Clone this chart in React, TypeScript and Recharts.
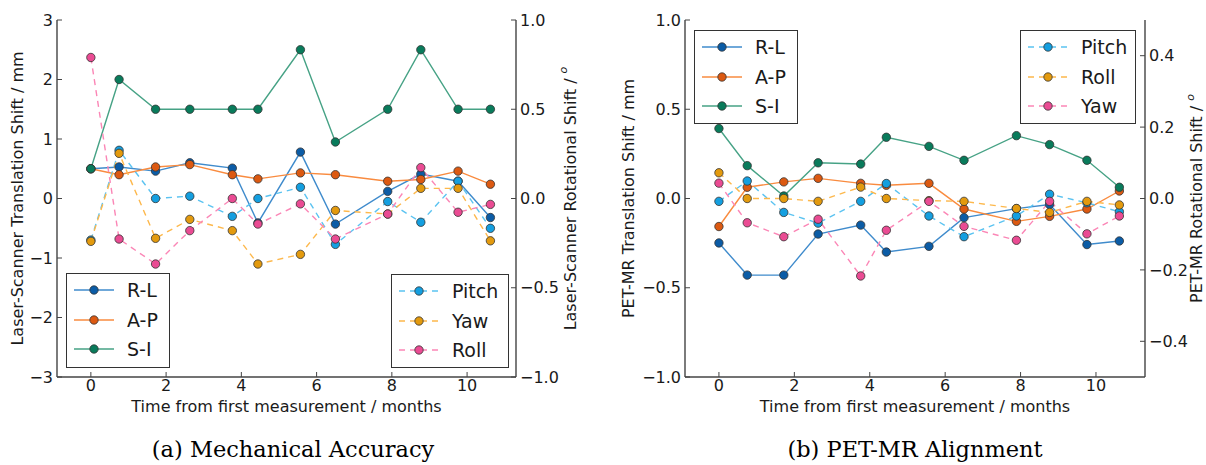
import React from 'react';
import { LineChart, Line, XAxis, YAxis, Label, Legend } from 'recharts';

// months since the first measurement, same sessions in both panels
const months = [0, 0.75, 1.72, 2.63, 3.76, 4.44, 5.57, 6.5, 7.89, 8.77, 9.76, 10.62];
const monthTicks = [0, 2, 4, 6, 8, 10];

// (a) laser scanner, translation in mm
const laserRL = [0.5, 0.53, 0.46, 0.6, 0.51, -0.41, 0.78, -0.43, 0.12, 0.41, 0.29, -0.32];
const laserAP = [0.5, 0.4, 0.53, 0.57, 0.4, 0.33, 0.43, 0.4, 0.29, 0.32, 0.46, 0.24];
const laserSI = [0.5, 2.0, 1.5, 1.5, 1.5, 1.5, 2.5, 0.95, 1.5, 2.5, 1.5, 1.5];
// (a) laser scanner, rotation in degrees
const laserPitch = [-0.233, 0.27, 0.0, 0.013, -0.1, 0.0, 0.063, -0.257, -0.017, -0.133, 0.097, -0.167];
const laserYaw = [-0.24, 0.253, -0.223, -0.117, -0.18, -0.367, -0.313, -0.067, -0.087, 0.057, 0.057, -0.237];
const laserRoll = [0.79, -0.227, -0.367, -0.18, 0.0, -0.143, -0.03, -0.227, -0.087, 0.173, -0.077, -0.033];

// (b) PET-MR, translation in mm
const petRL = [-0.249, -0.429, -0.429, -0.199, -0.149, -0.3, -0.268, -0.107, -0.057, -0.034, -0.258, -0.238];
const petAP = [-0.157, 0.063, 0.093, 0.113, 0.085, 0.074, 0.085, -0.059, -0.128, -0.1, -0.059, 0.042];
const petSI = [0.392, 0.184, 0.014, 0.2, 0.193, 0.343, 0.292, 0.214, 0.352, 0.302, 0.214, 0.063];
// (b) PET-MR, rotation in degrees
const petPitch = [-0.008, 0.049, -0.039, -0.069, -0.008, 0.042, -0.049, -0.107, -0.049, 0.012, -0.012, -0.037];
const petRoll = [0.072, 0.0, 0.0, -0.008, 0.032, 0.0, -0.006, -0.008, -0.028, -0.039, -0.008, -0.018];
const petYaw = [0.043, -0.068, -0.107, -0.058, -0.217, -0.089, -0.008, -0.078, -0.117, -0.008, -0.099, -0.049];

const laserTrTicks = [-3, -2, -1, 0, 1, 2, 3];
const laserRotTicks = [-1, -0.5, 0, 0.5, 1];
const petTrTicks = [-1, -0.5, 0, 0.5, 1];
const petRotTicks = [-0.4, -0.2, 0, 0.2, 0.4];

const FONT = "'DejaVu Sans', sans-serif";
const INK = '#1a1a1a';
const FRAME = '#444';

// line colour / marker colour
const BLUE = ['#3f8bcc', '#0b5ca6'];
const ORANGE = ['#f98b3f', '#dc5911'];
const GREEN = ['#46a285', '#097b5b'];
const SKY = ['#5bc3f1', '#149fe0'];
const AMBER = ['#fdb84c', '#e39a0e'];
const PINK = ['#fb86b6', '#ea4b93'];

type Series = { key: string; name: string; axis: 'tr' | 'rot'; c: string[]; dashed?: boolean };

const seriesA: Series[] = [
  { key: 'rl', name: 'R-L', axis: 'tr', c: BLUE },
  { key: 'ap', name: 'A-P', axis: 'tr', c: ORANGE },
  { key: 'si', name: 'S-I', axis: 'tr', c: GREEN },
  { key: 'pitch', name: 'Pitch', axis: 'rot', c: SKY, dashed: true },
  { key: 'yaw', name: 'Yaw', axis: 'rot', c: AMBER, dashed: true },
  { key: 'roll', name: 'Roll', axis: 'rot', c: PINK, dashed: true },
];

const seriesB: Series[] = [
  { key: 'rl', name: 'R-L', axis: 'tr', c: BLUE },
  { key: 'ap', name: 'A-P', axis: 'tr', c: ORANGE },
  { key: 'si', name: 'S-I', axis: 'tr', c: GREEN },
  { key: 'pitch', name: 'Pitch', axis: 'rot', c: SKY, dashed: true },
  { key: 'roll', name: 'Roll', axis: 'rot', c: AMBER, dashed: true },
  { key: 'yaw', name: 'Yaw', axis: 'rot', c: PINK, dashed: true },
];

const rowsA = months.map((m, i) => ({
  m, rl: laserRL[i], ap: laserAP[i], si: laserSI[i],
  pitch: laserPitch[i], yaw: laserYaw[i], roll: laserRoll[i],
}));

const rowsB = months.map((m, i) => ({
  m, rl: petRL[i], ap: petAP[i], si: petSI[i],
  pitch: petPitch[i], roll: petRoll[i], yaw: petYaw[i],
}));

const fmt = (digits: number) => (v: number) =>
  (v < 0 ? '\u2212' : '') + Math.abs(v).toFixed(digits);

const W = 600;
const H = 420;

type Box = { keys: string[]; left: number; top: number; width: number; height: number };

function LegendBoxes({ series, boxes }: { series: Series[]; boxes: Box[] }) {
  return (
    <div style={{ position: 'relative', width: W, height: H, pointerEvents: 'none' }}>
      {boxes.map((b, bi) => (
        <div
          key={bi}
          style={{
            position: 'absolute', left: b.left, top: b.top, width: b.width, height: b.height,
            border: '1.5px solid #333', background: '#fff', boxSizing: 'border-box',
          }}
        >
          {b.keys.map((k, i) => {
            const s = series.find((x) => x.key === k)!;
            return (
              <div key={k} style={{ position: 'absolute', left: 0, top: 3 + i * 29.5, height: 26, width: b.width }}>
                <svg width={50} height={26} style={{ position: 'absolute', left: 6, top: 0 }}>
                  <line x1={1} x2={41} y1={13} y2={13} stroke={s.c[0]} strokeWidth={1.5}
                    strokeDasharray={s.dashed ? '6 5' : undefined} />
                  <circle cx={21} cy={13} r={4.2} fill={s.c[1]} stroke="#333" strokeWidth={0.8} />
                </svg>
                <span style={{
                  position: 'absolute', left: 60, top: 0, lineHeight: '26px',
                  fontFamily: FONT, fontSize: 19, color: INK,
                }}>{s.name}</span>
              </div>
            );
          })}
        </div>
      ))}
    </div>
  );
}

const vTitle = (text: string, dx: number) => (props: any) => {
  const vb = props.viewBox || {};
  const cx = vb.x + vb.width / 2 + dx;
  const cy = vb.y + vb.height / 2;
  return (
    <text x={cx} y={cy} transform={`rotate(-90 ${cx} ${cy})`} textAnchor="middle"
      dominantBaseline="central" fontFamily={FONT} fontSize={16} fill={INK}>
      {text}
    </text>
  );
};

const degTitle = (text: string, dx: number) => (props: any) => {
  const vb = props.viewBox || {};
  const cx = vb.x + vb.width / 2 + dx;
  const cy = vb.y + vb.height / 2;
  return (
    <text x={cx} y={cy} transform={`rotate(-90 ${cx} ${cy})`} textAnchor="middle"
      dominantBaseline="central" fontFamily={FONT} fontSize={16} fill={INK}>
      {text}
      <tspan dy={-7} fontSize={11} fontStyle="italic">o</tspan>
    </text>
  );
};

const xTitle = (props: any) => {
  const vb = props.viewBox || {};
  return (
    <text x={vb.x + vb.width / 2} y={vb.y + 35} textAnchor="middle"
      fontFamily={FONT} fontSize={16} fill={INK}>
      Time from first measurement / months
    </text>
  );
};

type PanelProps = {
  rows: any[];
  series: Series[];
  trDomain: number[]; trTicks: number[]; trDigits: number;
  rotDomain: number[]; rotTicks: number[]; rotDigits: number;
  leftW: number; rightW: number;
  leftTitle: string; leftDx: number;
  rightTitle: string; rightDx: number;
  boxes: Box[];
};

function Panel(p: PanelProps) {
  const tickStyle = { fontSize: 16, fill: INK, fontFamily: FONT };
  const axisLine = { stroke: FRAME, strokeWidth: 1.4 };
  const tickLine = { stroke: FRAME, strokeWidth: 1 };
  return (
    <LineChart width={W} height={H} data={p.rows} margin={{ top: 20, right: 0, bottom: 0, left: 0 }}>
      <XAxis xAxisId="b" dataKey="m" type="number" domain={[-0.9, 11.3]} ticks={monthTicks}
        height={43} tick={tickStyle} tickSize={-5} tickMargin={8} axisLine={axisLine} tickLine={tickLine}>
        <Label content={xTitle} />
      </XAxis>
      <XAxis xAxisId="t" orientation="top" dataKey="m" type="number" domain={[-0.9, 11.3]}
        ticks={monthTicks} height={0} tick={false} tickSize={-5} axisLine={axisLine} tickLine={tickLine} />
      <YAxis yAxisId="tr" orientation="left" type="number" domain={p.trDomain} ticks={p.trTicks}
        width={p.leftW} tick={tickStyle} tickFormatter={fmt(p.trDigits)} tickSize={-5} tickMargin={9}
        axisLine={axisLine} tickLine={tickLine}>
        <Label content={vTitle(p.leftTitle, p.leftDx)} />
      </YAxis>
      <YAxis yAxisId="rot" orientation="right" type="number" domain={p.rotDomain} ticks={p.rotTicks}
        width={p.rightW} tick={tickStyle} tickFormatter={fmt(p.rotDigits)} tickSize={-5} tickMargin={9}
        axisLine={axisLine} tickLine={tickLine}>
        <Label content={degTitle(p.rightTitle, p.rightDx)} />
      </YAxis>
      {p.series.map((s) => (
        <Line key={s.key} xAxisId="b" yAxisId={s.axis} dataKey={s.key} name={s.name} type="linear"
          stroke={s.c[0]} strokeWidth={1.4} strokeDasharray={s.dashed ? '6 5' : undefined}
          dot={{ r: 4.2, fill: s.c[1], stroke: '#333', strokeWidth: 0.8, strokeDasharray: '' }}
          isAnimationActive={false} />
      ))}
      <Legend layout="vertical" align="center" verticalAlign="middle"
        wrapperStyle={{ position: 'absolute', left: 0, top: 0, width: W, height: H }}
        content={() => <LegendBoxes series={p.series} boxes={p.boxes} />} />
    </LineChart>
  );
}

const captionStyle: React.CSSProperties = {
  position: 'absolute', top: 435, width: 600, height: 28, lineHeight: '28px', textAlign: 'center',
  fontFamily: "'DejaVu Serif', serif", fontSize: 22.5, color: '#000',
};

export default function App() {
  return (
    <div style={{ position: 'absolute', left: 0, top: 0, width: 1206, height: 465, background: '#fff', overflow: 'hidden' }}>
      <div style={{ position: 'absolute', left: 0, top: 0 }}>
        <Panel
          rows={rowsA} series={seriesA}
          trDomain={[-3, 3]} trTicks={laserTrTicks} trDigits={0}
          rotDomain={[-1, 1]} rotTicks={laserRotTicks} rotDigits={1}
          leftW={57} rightW={84}
          leftTitle="Laser-Scanner Translation Shift / mm" leftDx={-11}
          rightTitle="Laser-Scanner Rotational Shift / " rightDx={12}
          boxes={[
            { keys: ['rl', 'ap', 'si'], left: 66, top: 273, width: 104, height: 95 },
            { keys: ['pitch', 'yaw', 'roll'], left: 391, top: 274, width: 118, height: 94 },
          ]}
        />
      </div>
      <div style={{ position: 'absolute', left: 606, top: 0 }}>
        <Panel
          rows={rowsB} series={seriesB}
          trDomain={[-1, 1]} trTicks={petTrTicks} trDigits={1}
          rotDomain={[-0.5, 0.5]} rotTicks={petRotTicks} rotDigits={1}
          leftW={79} rightW={61}
          leftTitle="PET-MR Translation Shift / mm" leftDx={-17}
          rightTitle="PET-MR Rotational Shift / " rightDx={21}
          boxes={[
            { keys: ['rl', 'ap', 'si'], left: 88, top: 30, width: 104, height: 94 },
            { keys: ['pitch', 'roll', 'yaw'], left: 414, top: 30, width: 116, height: 94 },
          ]}
        />
      </div>
      <div style={{ ...captionStyle, left: -7 }}>(a) Mechanical Accuracy</div>
      <div style={{ ...captionStyle, left: 615 }}>(b) PET-MR Alignment</div>
    </div>
  );
}
